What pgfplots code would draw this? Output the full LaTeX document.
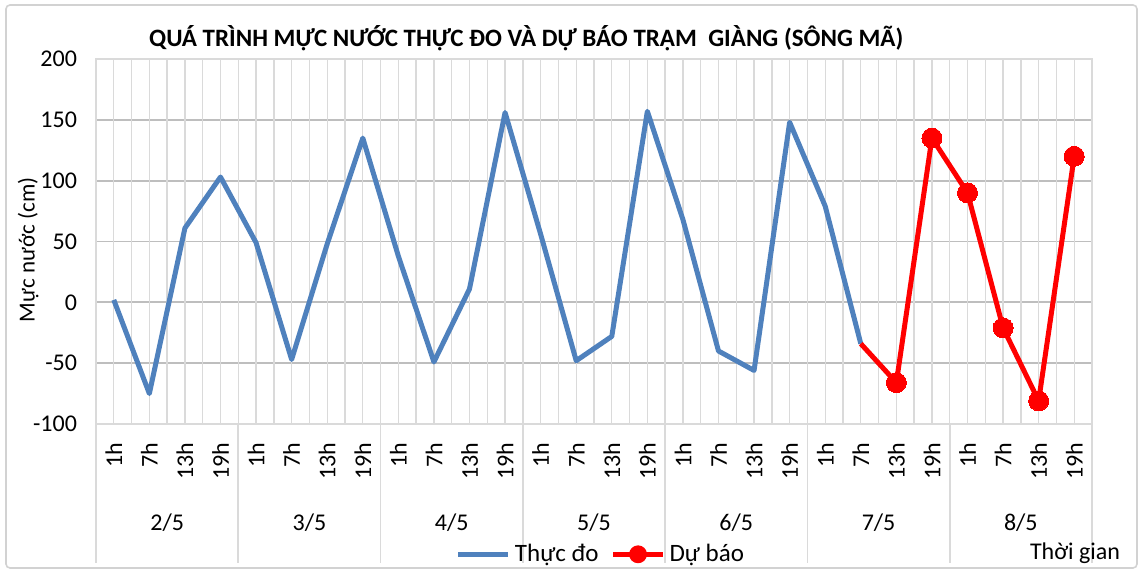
\documentclass[border=0pt]{standalone}
\usepackage{pgfplots}
\pgfplotsset{compat=1.18}
\usepackage{fontspec}
\setmainfont{Carlito}
\definecolor{xlblue}{RGB}{79,129,189}
\definecolor{gridc}{RGB}{190,190,190}
\definecolor{vgridc}{RGB}{218,218,218}
\tikzset{grplab/.style={font=\fontsize{12}{14}\selectfont, yshift=-49.5pt},
  sep/.style={vgridc, line width=0.8pt}}
\begin{document}
\begin{tikzpicture}
\useasboundingbox (0,0) rectangle (571pt,285.5pt);
\draw[gray!35, line width=0.8pt, rounded corners=2pt] (3pt,1.5pt) rectangle (568.5pt,283pt);
\begin{axis}[
  at={(48pt,73.5pt)}, anchor=south west,
  scale only axis, width=498pt, height=182.5pt,
  xmin=-0.5, xmax=27.5, ymin=-100, ymax=200,
  clip=false,
  xtick={0,...,27},
  xticklabels={1h,7h,13h,19h,1h,7h,13h,19h,1h,7h,13h,19h,1h,7h,13h,19h,1h,7h,13h,19h,1h,7h,13h,19h,1h,7h,13h,19h},
  xticklabel style={rotate=90, anchor=east, font=\fontsize{12}{14}\selectfont, xshift=-6pt},
  extra x ticks={-0.5,0,0.5,1,1.5,2,2.5,3,3.5,4,4.5,5,5.5,6,6.5,7,7.5,8,8.5,9,9.5,10,10.5,11,11.5,12,12.5,13,13.5,14,14.5,15,15.5,16,16.5,17,17.5,18,18.5,19,19.5,20,20.5,21,21.5,22,22.5,23,23.5,24,24.5,25,25.5,26,26.5,27,27.5},
  extra x tick labels={},
  extra x tick style={grid=major, major grid style={vgridc, line width=0.7pt}},
  ytick={-100,-50,0,50,100,150,200},
  ymajorgrids, major grid style={gridc, line width=0.9pt},
  major tick length=0pt,
  axis line style={vgridc, line width=0.8pt},
  yticklabel style={font=\fontsize{12}{14}\selectfont, xshift=-6pt},
  /pgf/number format/assume math mode=true,
  ylabel={Mực nước (cm)},
  ylabel style={at={(axis description cs:-0.068,0.477)}, anchor=center, font=\fontsize{11.5}{13}\selectfont},
  title={\bfseries QUÁ TRÌNH MỰC NƯỚC THỰC ĐO VÀ DỰ BÁO TRẠM\ \ GIÀNG (SÔNG MÃ)},
  title style={at={(axis description cs:0.432,1.0575)}, anchor=center, yshift=-6pt, font=\fontsize{12.5}{15}\selectfont},
  legend columns=2,
  legend style={at={(axis description cs:0.508,-0.357)}, anchor=center, draw=none, fill=none,
    font=\fontsize{12.5}{14}\selectfont, /tikz/every even column/.append style={column sep=4pt}},
]
\addplot[xlblue, line width=2.5pt, line join=round, no markers,
  legend image code/.code={\draw[xlblue, line width=2.5pt] (0pt,0pt) -- (25pt,0pt);}]
  coordinates {
  (0,2) (1,-75) (2,61) (3,103)
  (4,49) (5,-47) (6,48) (7,135)
  (8,38) (9,-49) (10,11) (11,156)
  (12,56) (13,-48) (14,-28) (15,157)
  (16,68) (17,-40) (18,-56) (19,148)
  (20,79) (21,-34)
  };
\addlegendentry{Thực đo}
\addplot[red, line width=2.5pt, line join=round, mark=*, mark size=5pt, mark indices={2,3,4,5,6,7},
  mark options={solid, fill=red, line width=0pt},
  legend image code/.code={\draw[red, line width=2.5pt] (0pt,0pt) -- (25pt,0pt); \fill[red] (12.5pt,0pt) circle (3.2pt);}]
  coordinates {
  (21,-34) (22,-66) (23,135)
  (24,90) (25,-21) (26,-81) (27,120)
  };
\addlegendentry{Dự báo}
\node[grplab] at (axis cs:1.5,-100) {2/5};
\node[grplab] at (axis cs:5.5,-100) {3/5};
\node[grplab] at (axis cs:9.5,-100) {4/5};
\node[grplab] at (axis cs:13.5,-100) {5/5};
\node[grplab] at (axis cs:17.5,-100) {6/5};
\node[grplab] at (axis cs:21.5,-100) {7/5};
\node[grplab] at (axis cs:25.5,-100) {8/5};
\draw[sep] (axis cs:-0.5,-100) -- ++(0pt,-69.5pt);
\draw[sep] (axis cs:3.5,-100) -- ++(0pt,-69.5pt);
\draw[sep] (axis cs:7.5,-100) -- ++(0pt,-69.5pt);
\draw[sep] (axis cs:11.5,-100) -- ++(0pt,-69.5pt);
\draw[sep] (axis cs:15.5,-100) -- ++(0pt,-69.5pt);
\draw[sep] (axis cs:19.5,-100) -- ++(0pt,-69.5pt);
\draw[sep] (axis cs:23.5,-100) -- ++(0pt,-69.5pt);
\draw[sep] (axis cs:27.5,-100) -- ++(0pt,-69.5pt);
\node[font=\fontsize{12}{14}\selectfont] at (axis description cs:0.983,-0.355) {Thời gian};
\end{axis}
\end{tikzpicture}
\end{document}
